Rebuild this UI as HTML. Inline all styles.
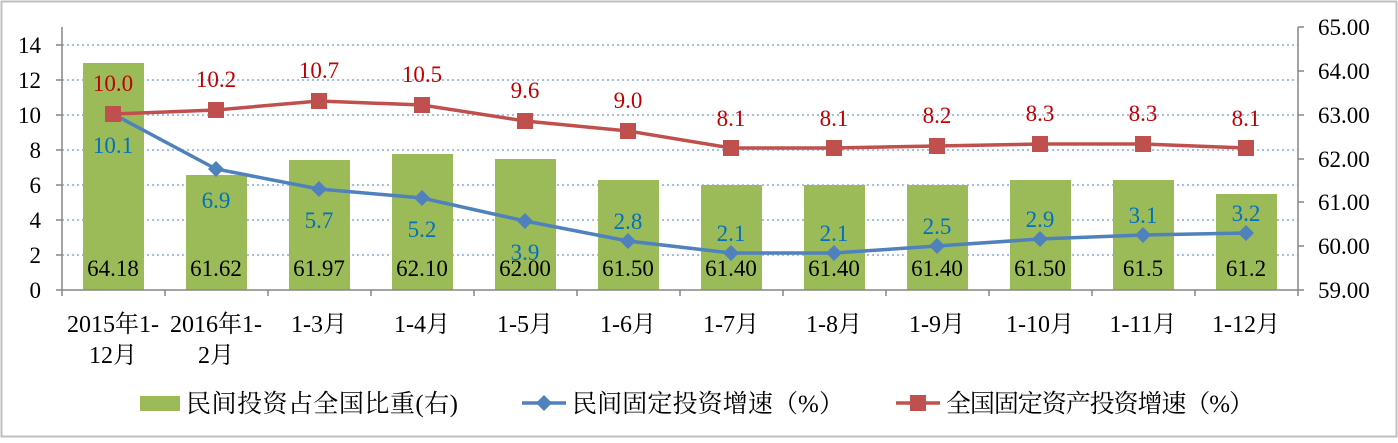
<!DOCTYPE html>
<html><head><meta charset="utf-8"><style>
body{margin:0;background:#fff}
svg text{font-family:"Liberation Serif","Noto Serif CJK SC",serif}
</style></head><body>
<svg width="1398" height="438" xmlns="http://www.w3.org/2000/svg">
<rect x="1.5" y="1.5" width="1395" height="435" fill="#fff" stroke="#bfbfbf" stroke-width="2"/>
<g stroke="#a6bde6" stroke-width="2" stroke-dasharray="2,3">
<line x1="62" x2="1298" y1="45" y2="45"/><line x1="62" x2="1298" y1="80" y2="80"/>
<line x1="62" x2="1298" y1="115" y2="115"/><line x1="62" x2="1298" y1="150" y2="150"/>
<line x1="62" x2="1298" y1="185" y2="185"/><line x1="62" x2="1298" y1="220" y2="220"/>
<line x1="62" x2="1298" y1="255" y2="255"/>
</g>
<g fill="#9bbb59">
<rect x="83" y="63" width="61" height="227"/>
<rect x="186" y="175" width="61" height="115"/>
<rect x="289" y="160" width="61" height="130"/>
<rect x="392" y="154" width="61" height="136"/>
<rect x="495" y="159" width="61" height="131"/>
<rect x="598" y="180" width="61" height="110"/>
<rect x="701" y="185" width="61" height="105"/>
<rect x="804" y="185" width="61" height="105"/>
<rect x="907" y="185" width="61" height="105"/>
<rect x="1010" y="180" width="61" height="110"/>
<rect x="1113" y="180" width="61" height="110"/>
<rect x="1216" y="194" width="61" height="96"/>
</g>
<g stroke="#868686" stroke-width="1.5">
<line x1="62" y1="27" x2="62" y2="296"/><line x1="1298" y1="27" x2="1298" y2="296"/>
<line x1="56" y1="290" x2="1304" y2="290"/>
<line x1="56" y1="45" x2="62" y2="45"/><line x1="56" y1="80" x2="62" y2="80"/><line x1="56" y1="115" x2="62" y2="115"/><line x1="56" y1="150" x2="62" y2="150"/><line x1="56" y1="185" x2="62" y2="185"/><line x1="56" y1="220" x2="62" y2="220"/><line x1="56" y1="255" x2="62" y2="255"/>
<line x1="1298" y1="27" x2="1304" y2="27"/><line x1="1298" y1="71" x2="1304" y2="71"/><line x1="1298" y1="115" x2="1304" y2="115"/><line x1="1298" y1="159" x2="1304" y2="159"/><line x1="1298" y1="202" x2="1304" y2="202"/><line x1="1298" y1="246" x2="1304" y2="246"/>
<line x1="165" y1="290" x2="165" y2="296"/><line x1="268" y1="290" x2="268" y2="296"/><line x1="371" y1="290" x2="371" y2="296"/><line x1="474" y1="290" x2="474" y2="296"/><line x1="577" y1="290" x2="577" y2="296"/><line x1="680" y1="290" x2="680" y2="296"/><line x1="783" y1="290" x2="783" y2="296"/><line x1="886" y1="290" x2="886" y2="296"/><line x1="989" y1="290" x2="989" y2="296"/><line x1="1092" y1="290" x2="1092" y2="296"/><line x1="1195" y1="290" x2="1195" y2="296"/>
</g>
<g font-size="23" fill="#000" text-anchor="end">
<text x="41" y="53">14</text><text x="41" y="88">12</text><text x="41" y="123">10</text><text x="41" y="158">8</text><text x="41" y="193">6</text><text x="41" y="228">4</text><text x="41" y="263">2</text><text x="41" y="298">0</text>
</g>
<g font-size="23" fill="#000">
<text x="1318" y="35">65.00</text><text x="1318" y="79">64.00</text><text x="1318" y="123">63.00</text><text x="1318" y="167">62.00</text><text x="1318" y="210">61.00</text><text x="1318" y="254">60.00</text><text x="1318" y="298">59.00</text>
</g>
<g font-size="23" fill="#000" text-anchor="middle">
<text x="113" y="276">64.18</text><text x="216" y="276">61.62</text><text x="319" y="276">61.97</text><text x="422" y="276">62.10</text><text x="525" y="276">62.00</text><text x="628" y="276">61.50</text><text x="731" y="276">61.40</text><text x="834" y="276">61.40</text><text x="937" y="276">61.40</text><text x="1040" y="276">61.50</text><text x="1143" y="276">61.5</text><text x="1246" y="276">61.2</text>
</g>
<g font-size="24" fill="#000" text-anchor="middle">
<text x="113" y="332">2015年1-</text><text x="113" y="363">12月</text>
<text x="216" y="332">2016年1-</text><text x="216" y="363">2月</text>
<text x="319" y="332">1-3月</text><text x="422" y="332">1-4月</text><text x="525" y="332">1-5月</text><text x="628" y="332">1-6月</text><text x="731" y="332">1-7月</text><text x="834" y="332">1-8月</text><text x="937" y="332">1-9月</text><text x="1040" y="332">1-10月</text><text x="1143" y="332">1-11月</text><text x="1246" y="332">1-12月</text>
</g>
<polyline fill="none" stroke="#4f81bd" stroke-width="3.5" points="113,114 216,169 319,189 422,198 525,221 628,241 731,253 834,253 937,246 1040,239 1143,235 1246,233"/>
<g fill="#4f81bd">
<path d="M113,106l8,8-8,8-8-8z"/><path d="M216,161l8,8-8,8-8-8z"/><path d="M319,181l8,8-8,8-8-8z"/><path d="M422,190l8,8-8,8-8-8z"/><path d="M525,213l8,8-8,8-8-8z"/><path d="M628,233l8,8-8,8-8-8z"/><path d="M731,245l8,8-8,8-8-8z"/><path d="M834,245l8,8-8,8-8-8z"/><path d="M937,238l8,8-8,8-8-8z"/><path d="M1040,231l8,8-8,8-8-8z"/><path d="M1143,227l8,8-8,8-8-8z"/><path d="M1246,225l8,8-8,8-8-8z"/>
</g>
<polyline fill="none" stroke="#c0504d" stroke-width="3.5" points="113,114 216,110 319,101 422,105 525,121 628,131 731,148 834,148 937,146 1040,144 1143,144 1246,148"/>
<g fill="#c0504d">
<rect x="105" y="106" width="16" height="16"/><rect x="208" y="102" width="16" height="16"/><rect x="311" y="93" width="16" height="16"/><rect x="414" y="97" width="16" height="16"/><rect x="517" y="113" width="16" height="16"/><rect x="620" y="123" width="16" height="16"/><rect x="723" y="140" width="16" height="16"/><rect x="826" y="140" width="16" height="16"/><rect x="929" y="138" width="16" height="16"/><rect x="1032" y="136" width="16" height="16"/><rect x="1135" y="136" width="16" height="16"/><rect x="1238" y="140" width="16" height="16"/>
</g>
<g font-size="23" fill="#c00000" text-anchor="middle">
<text x="113" y="91">10.0</text><text x="216" y="87">10.2</text><text x="319" y="78">10.7</text><text x="422" y="82">10.5</text><text x="525" y="98">9.6</text><text x="628" y="108">9.0</text><text x="731" y="126">8.1</text><text x="834" y="126">8.1</text><text x="937" y="123">8.2</text><text x="1040" y="121">8.3</text><text x="1143" y="121">8.3</text><text x="1246" y="126">8.1</text>
</g>
<g font-size="23" fill="#0070c0" text-anchor="middle">
<text x="113" y="153">10.1</text><text x="216" y="208">6.9</text><text x="319" y="228">5.7</text><text x="422" y="237">5.2</text><text x="525" y="260">3.9</text><text x="628" y="229">2.8</text><text x="731" y="241">2.1</text><text x="834" y="241">2.1</text><text x="937" y="234">2.5</text><text x="1040" y="227">2.9</text><text x="1143" y="223">3.1</text><text x="1246" y="221">3.2</text>
</g>
<rect x="140" y="396" width="40" height="15" fill="#9bbb59"/>
<text x="186" y="412" font-size="25" textLength="272">民间投资占全国比重(右)</text>
<line x1="522" y1="403" x2="566" y2="403" stroke="#4f81bd" stroke-width="3.5"/>
<path d="M544,395l8,8-8,8-8-8z" fill="#4f81bd"/>
<text x="572" y="412" font-size="25" textLength="272">民间固定投资增速（%）</text>
<line x1="896" y1="403" x2="940" y2="403" stroke="#c0504d" stroke-width="3.5"/>
<rect x="910" y="395" width="16" height="16" fill="#c0504d"/>
<text x="946" y="412" font-size="25" textLength="308">全国固定资产投资增速（%）</text>
</svg>
</body></html>
